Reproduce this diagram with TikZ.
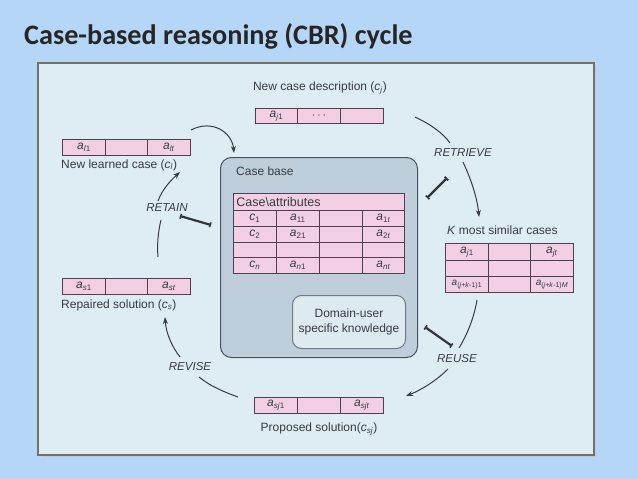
\documentclass[tikz,border=0pt]{standalone}
\usepackage{fontspec}
\setmainfont{Liberation Sans}
\newfontfamily\titlefont{Carlito}
\usetikzlibrary{arrows.meta}
\definecolor{slidebg}{RGB}{181,214,246}
\definecolor{panelbg}{RGB}{222,237,243}
\definecolor{panelline}{RGB}{115,112,105}
\definecolor{cbfill}{RGB}{190,207,219}
\definecolor{cbline}{RGB}{72,82,92}
\definecolor{dkfill}{RGB}{221,235,241}
\definecolor{dkline}{RGB}{110,120,126}
\definecolor{cellpink}{RGB}{242,207,226}
\definecolor{cellline}{RGB}{82,62,78}
\definecolor{ink}{RGB}{55,59,65}
\definecolor{titleink}{RGB}{38,38,38}
\newcommand\ssb[2]{\textit{#1}\textsubscript{#2}}
\newcommand\cellnode[6]{\node[cell,minimum width=#4,minimum height=#5] (#1) at (#2,#3) {#6};}
\begin{document}
\begin{tikzpicture}[x=1pt,y=-1pt,
  cell/.style={draw=cellline, fill=cellpink, line width=0.9pt, inner sep=0pt,
    anchor=north west, text=ink, font=\fontsize{12}{13}\selectfont},
  lbl/.style={text=ink, inner sep=0pt, font=\fontsize{12}{14}\selectfont},
  phase/.style={text=ink, inner sep=0pt, font=\fontsize{11.5}{13}\selectfont\itshape},
  arr/.style={draw=ink, line width=1pt, -{Stealth[length=7pt,width=5pt]}},
  seg/.style={draw=ink, line width=1pt},
  dbar/.style={draw=ink!90!black, line width=2.2pt, {Bar[width=5pt,line width=1.6pt]}-{Bar[width=5pt,line width=1.6pt]}}]
\useasboundingbox (0,0) rectangle (638,479);
\fill[slidebg] (0,0) rectangle (638,479);
% title
\node[anchor=base west, inner sep=0pt, text=titleink, font=\titlefont\bfseries\fontsize{28.2}{32}\selectfont] (title) at (24,45) {Case-based reasoning (CBR) cycle};
% panel
\fill[black!25, opacity=0.5] (40.5,65.5) rectangle (596,457);
\draw[panelline, fill=panelbg, line width=1.1pt] (38,63) rectangle (594,455);
% case base
\node[draw=cbline, fill=cbfill, line width=1pt, rounded corners=11pt, minimum width=197, minimum height=200, anchor=north west, inner sep=0pt] (cb) at (220,157) {};
\node[lbl, anchor=west] (cblbl) at (236,171) {Case base};
% case table
\node[cell, minimum width=171, minimum height=17, text width=167, align=left, font=\fontsize{12.5}{13}\selectfont] (hdr) at (233,193) {\hspace*{1pt}Case\textbackslash attributes};
\cellnode{r11}{233}{210}{43}{16}{\ssb{c}{1}}
\cellnode{r12}{276}{210}{43}{16}{\ssb{a}{11}}
\cellnode{r13}{319}{210}{43}{16}{}
\cellnode{r14}{362}{210}{42}{16}{\ssb{a}{1\textit{t}}}
\cellnode{r21}{233}{226}{43}{16}{\ssb{c}{2}}
\cellnode{r22}{276}{226}{43}{16}{\ssb{a}{21}}
\cellnode{r23}{319}{226}{43}{16}{}
\cellnode{r24}{362}{226}{42}{16}{\ssb{a}{2\textit{t}}}
\cellnode{r31}{233}{242}{43}{15}{}
\cellnode{r32}{276}{242}{43}{15}{}
\cellnode{r33}{319}{242}{43}{15}{}
\cellnode{r34}{362}{242}{42}{15}{}
\cellnode{r41}{233}{257}{43}{16}{\ssb{c}{\textit{n}}}
\cellnode{r42}{276}{257}{43}{16}{\ssb{a}{\textit{n}1}}
\cellnode{r43}{319}{257}{43}{16}{}
\cellnode{r44}{362}{257}{42}{16}{\ssb{a}{\textit{nt}}}
% domain knowledge
\node[draw=dkline, fill=dkfill, line width=1pt, rounded corners=9pt, minimum width=113, minimum height=53, anchor=north west, inner sep=0pt] (dk) at (292,295) {};
\node[lbl, align=center, font=\fontsize{12}{15}\selectfont] (dklbl) at (dk.center) {Domain-user\\specific knowledge};
% new case description
\node[lbl] (ncd) at (320,88) {New case description (\ssb{c}{\textit{j}})};
\cellnode{n1}{255}{108}{42}{15}{\ssb{a}{\textit{j}1}}
\cellnode{n2}{297}{108}{43}{15}{$\cdots$}
\cellnode{n3}{340}{108}{43}{15}{}
% new learned case
\cellnode{l1}{62}{139}{43}{16}{\ssb{a}{\textit{l}1}}
\cellnode{l2}{105}{139}{42}{16}{}
\cellnode{l3}{147}{139}{43}{16}{\ssb{a}{\textit{lt}}}
\node[lbl] (nlc) at (61,165) [anchor=west] {New learned case (\ssb{c}{\textit{l}})};
% repaired solution
\cellnode{s1}{62}{278}{43}{16}{\ssb{a}{\textit{s}1}}
\cellnode{s2}{105}{278}{42}{16}{}
\cellnode{s3}{147}{278}{43}{16}{\ssb{a}{\textit{st}}}
\node[lbl, anchor=west] (rs) at (61,305) {Repaired solution (\ssb{c}{\textit{s}})};
% K most similar
\node[lbl, anchor=west] (kms) at (447,230) {\textit{K} most similar cases};
\cellnode{k11}{445}{243}{43}{17}{\ssb{a}{\textit{j}1}}
\cellnode{k12}{488}{243}{42}{17}{}
\cellnode{k13}{530}{243}{43}{17}{\ssb{a}{\textit{jt}}}
\cellnode{k21}{445}{260}{43}{16}{}
\cellnode{k22}{488}{260}{42}{16}{}
\cellnode{k23}{530}{260}{43}{16}{}
\cellnode{k31}{445}{276}{43}{16}{\fontsize{10}{10}\selectfont\ssb{a}{(\textit{j}+\textit{k}-1)1}}
\cellnode{k32}{488}{276}{42}{16}{}
\cellnode{k33}{530}{276}{43}{16}{\fontsize{10}{10}\selectfont\ssb{a}{(\textit{j}+\textit{k}-1)\textit{M}}}
% proposed solution
\cellnode{p1}{254}{397}{43}{16}{\ssb{a}{\textit{sj}1}}
\cellnode{p2}{297}{397}{43}{16}{}
\cellnode{p3}{340}{397}{43}{16}{\ssb{a}{\textit{sjt}}}
\node[lbl] (ps) at (319,429) {Proposed solution(\ssb{c}{\textit{sj}})};
% phase labels
\node[phase] (retrieve) at (463,153) {RETRIEVE};
\node[phase] (reuse) at (457,359) {REUSE};
\node[phase] (revise) at (190,367) {REVISE};
\node[phase] (retain) at (167,208) {RETAIN};
% arrow end points
\coordinate (a1s) at (191,130);
\coordinate (a1e) at (234,153);
\coordinate (rt1s) at (415,117);
\coordinate (rt1e) at (450,143);
\coordinate (rt2s) at (463,162);
\coordinate (rt2e) at (479,217);
\coordinate (ru1s) at (477,300);
\coordinate (ru1e) at (459,348);
\coordinate (ru2s) at (448,369);
\coordinate (ru2e) at (406,396);
\coordinate (rv1s) at (238,397);
\coordinate (rv1e) at (199,377);
\coordinate (rv2s) at (180,357);
\coordinate (rv2e) at (165,317);
\coordinate (ra1s) at (158,257);
\coordinate (ra1e) at (161,220);
\coordinate (ra2s) at (158,201);
\coordinate (ra2e) at (180,172);
\coordinate (b1s) at (427,198);
\coordinate (b1e) at (447,178);
\coordinate (b2s) at (425,327);
\coordinate (b2e) at (452,346);
\coordinate (b3s) at (180,216);
\coordinate (b3e) at (211,225);
% cycle arrows
\draw[arr] (a1s) .. controls (212,119) and (232,132) .. (a1e);
\draw[seg] (rt1s) .. controls (430,124) and (443,133) .. (rt1e);
\draw[arr] (rt2s) .. controls (470,177) and (477,196) .. (rt2e);
\draw[seg] (ru1s) .. controls (474,318) and (467,335) .. (ru1e);
\draw[arr] (ru2s) .. controls (436,381) and (421,390) .. (ru2e);
\draw[seg] (rv1s) .. controls (224,392) and (210,386) .. (rv1e);
\draw[arr] (rv2s) .. controls (172,347) and (166,333) .. (rv2e);
\draw[seg] (ra1s) .. controls (157,245) and (158,232) .. (ra1e);
\draw[arr] (ra2s) .. controls (162,190) and (170,181) .. (ra2e);
% double bars
\draw[dbar] (b1s) -- (b1e);
\draw[dbar] (b2s) -- (b2e);
\draw[dbar] (b3s) -- (b3e);
\end{tikzpicture}
\end{document}
